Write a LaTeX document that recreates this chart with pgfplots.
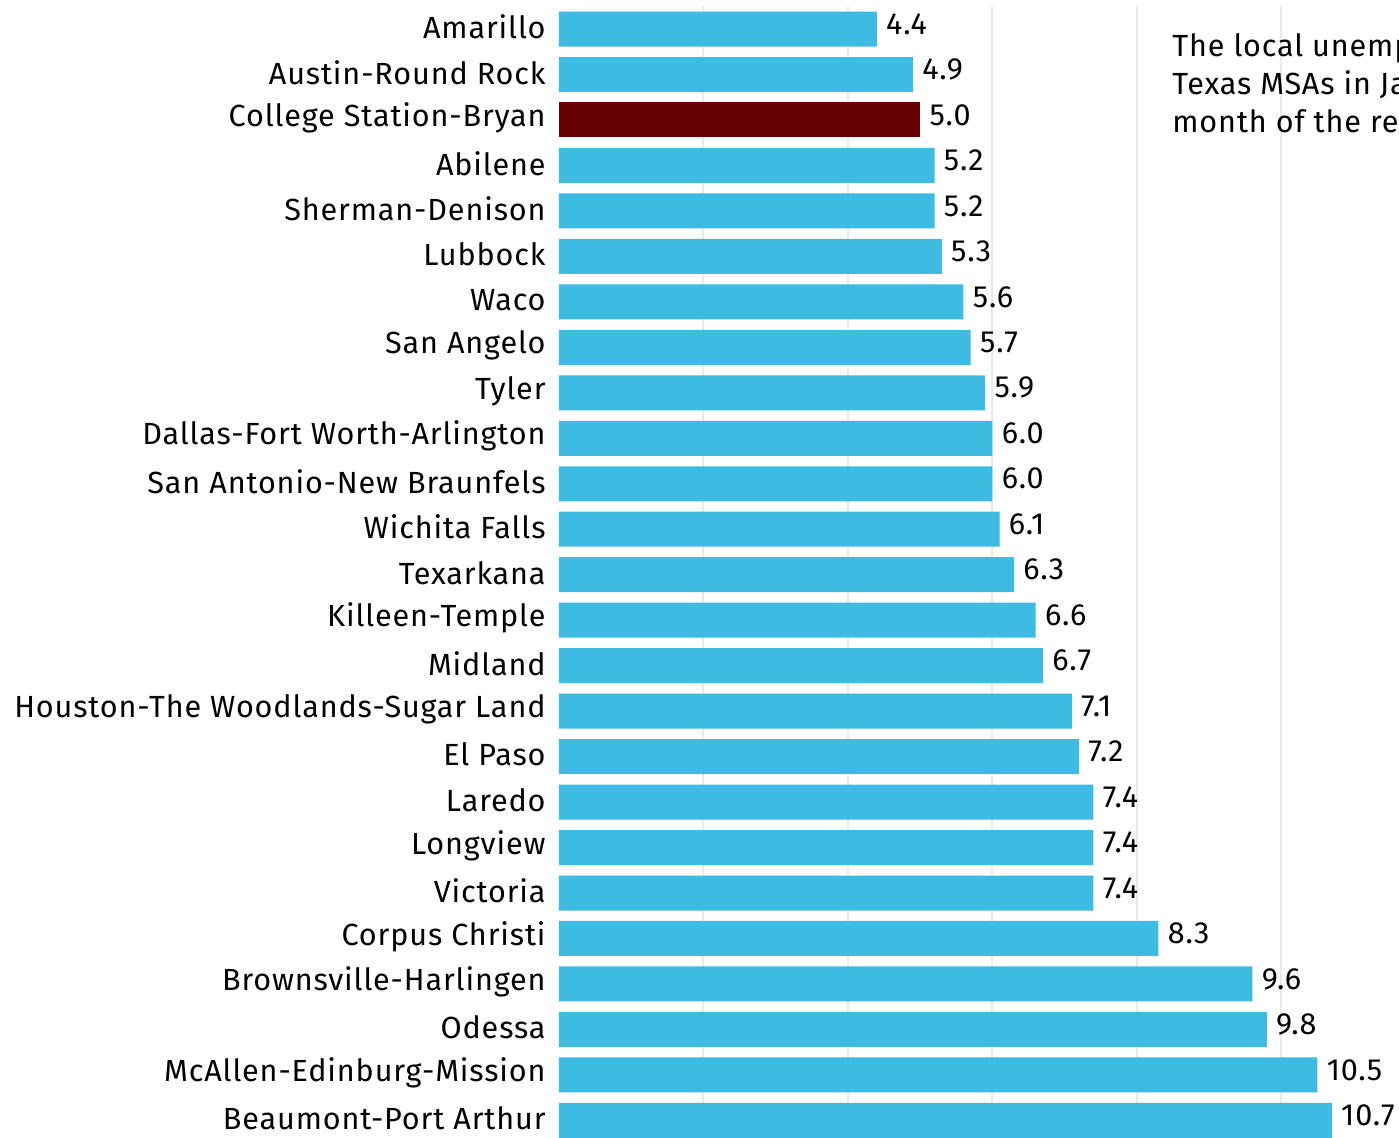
\documentclass[border=0pt]{standalone}
\usepackage{pgfplots}
\pgfplotsset{compat=1.18}
\usepackage{pgfplotstable}
\usepackage{fontspec}
\setmainfont[LetterSpace=2.8]{Fira Sans}
\definecolor{barblue}{RGB}{61,187,226}
\definecolor{cstat}{RGB}{102,0,0}
\definecolor{gridc}{RGB}{234,234,234}
\pgfplotstableread{
idx val
0 4.4
1 4.9
3 5.2
4 5.2
5 5.3
6 5.6
7 5.7
8 5.9
9 6.0
10 6.0
11 6.1
12 6.3
13 6.6
14 6.7
15 7.1
16 7.2
17 7.4
18 7.4
19 7.4
20 8.3
21 9.6
22 9.8
23 10.5
24 10.7
}\bluedata
\pgfplotstableread{
idx val
2 5.0
}\reddata
\begin{document}
\begin{tikzpicture}
\begin{axis}[
  at={(279.5pt,-3.15pt)}, anchor=north west,
  width=420pt, height=568.4pt, scale only axis,
  xmin=0, xmax=11.63, ymin=-0.5, ymax=24.5, y dir=reverse,
  xbar, bar width=17.5pt, bar shift=0pt,
  ytick={0,...,24},
  yticklabels={Amarillo,Austin-Round Rock,College Station-Bryan,Abilene,Sherman-Denison,Lubbock,Waco,San Angelo,Tyler,Dallas-Fort Worth-Arlington,San Antonio-New Braunfels,Wichita Falls,Texarkana,Killeen-Temple,Midland,Houston-The Woodlands-Sugar Land,El Paso,Laredo,Longview,Victoria,Corpus Christi,Brownsville-Harlingen,Odessa,McAllen-Edinburg-Mission,Beaumont-Port Arthur},
  xtick={2,4,6,8,10}, xticklabels={},
  xmajorgrids, grid style={gridc, line width=1pt},
  axis line style={draw=none}, major tick length=0pt,
  y tick label style={font=\fontsize{15.3}{18}\selectfont, inner sep=0pt, xshift=-6.5pt, yshift=1pt, anchor=east},
  /pgf/number format/.cd, fixed, fixed zerofill, precision=1, assume math mode=true, /pgfplots/.cd,
  nodes near coords,
  nodes near coords style={anchor=west, inner sep=0pt, xshift=4.5pt, yshift=2.5pt, font=\fontsize{15.3}{18}\selectfont, text=black},
  clip=false,
]
\addplot[fill=barblue, draw=none] table[x=val, y=idx] {\bluedata};
\addplot[fill=cstat, draw=none] table[x=val, y=idx] {\reddata};
\end{axis}
\begin{scope}[every node/.style={anchor=base west, inner sep=0pt, font=\fontsize{15.3}{19}\selectfont}]
\node at (586pt,-28.5pt) {The local unemployment rate for};
\node at (586pt,-47.5pt) {Texas MSAs in January was the};
\node at (586pt,-66.2pt) {month of the recorded data};
\end{scope}
\pgfresetboundingbox
\path[use as bounding box] (0,0) rectangle (699.5pt,-569pt);
\end{tikzpicture}
\end{document}
